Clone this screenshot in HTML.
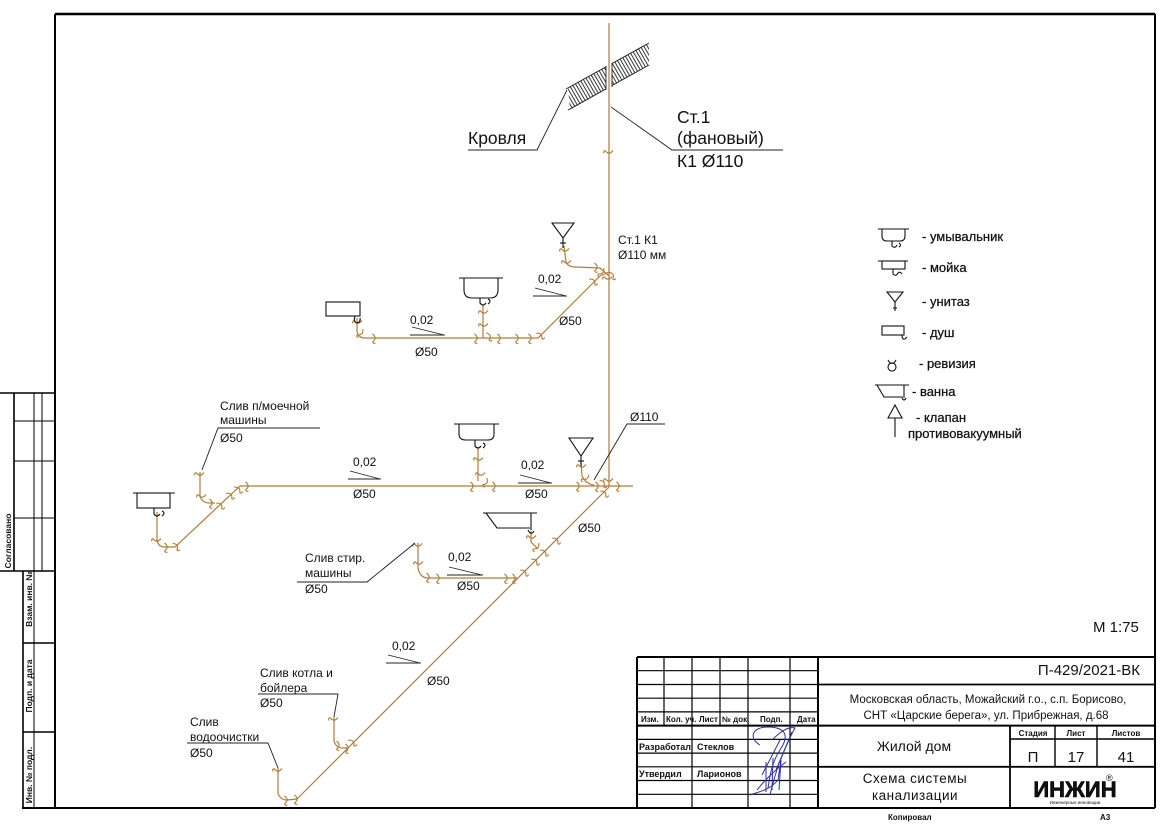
<!DOCTYPE html>
<html><head><meta charset="utf-8">
<style>
html,body{margin:0;padding:0;background:#fff;}
svg{display:block;}
text{font-family:"Liberation Sans",Arial,sans-serif;fill:#111;}
.b{font-weight:bold;}
</style></head><body>
<svg width="1166" height="824" viewBox="0 0 1166 824" xmlns="http://www.w3.org/2000/svg">
<defs>
<path id="s" d="M-1.5,-4 Q3.8,0 -1.5,4 M-1.5,4 Q-0.5,6 1.5,5" fill="none" stroke="#b07c38" stroke-width="1.1"/>
<pattern id="h" width="3" height="3" patternUnits="userSpaceOnUse" patternTransform="rotate(-30)"><line x1="0.5" y1="0" x2="0.5" y2="3" stroke="#222" stroke-width="0.9"/></pattern>
</defs>

<!-- FRAME -->
<line x1="55" y1="14" x2="1155" y2="14" stroke="#000" stroke-width="2.6"/>
<line x1="55" y1="14" x2="55" y2="808" stroke="#000" stroke-width="2"/>
<line x1="1155" y1="14" x2="1155" y2="808" stroke="#000" stroke-width="2"/>
<line x1="22" y1="808" x2="1155" y2="808" stroke="#000" stroke-width="2"/>

<!-- LEFT STRIP -->
<g stroke="#000" fill="none">
<line x1="0" y1="393" x2="55" y2="393" stroke-width="1.6"/>
<line x1="0" y1="571" x2="55" y2="571" stroke-width="1.6"/>
<line x1="14" y1="393" x2="14" y2="571" stroke-width="1.6"/>
<line x1="34" y1="393" x2="34" y2="571" stroke-width="1"/>
<line x1="42" y1="393" x2="42" y2="571" stroke-width="1"/>
<line x1="14" y1="421" x2="55" y2="421" stroke-width="1"/>
<line x1="14" y1="461" x2="55" y2="461" stroke-width="1"/>
<line x1="14" y1="518" x2="55" y2="518" stroke-width="1"/>
<line x1="23" y1="571" x2="23" y2="808" stroke-width="1.6"/>
<line x1="34" y1="571" x2="34" y2="808" stroke-width="1"/>
<line x1="23" y1="643" x2="55" y2="643" stroke-width="1.6"/>
<line x1="23" y1="732" x2="55" y2="732" stroke-width="1.6"/>
</g>
<text class="b" font-size="8.5" transform="translate(11,541) rotate(-90)" text-anchor="middle">Согласовано</text>
<text class="b" font-size="8.5" transform="translate(32,599) rotate(-90)" text-anchor="middle">Взам. инв. №</text>
<text class="b" font-size="8.5" transform="translate(32,686) rotate(-90)" text-anchor="middle">Подп. и дата</text>
<text class="b" font-size="8.5" transform="translate(32,775) rotate(-90)" text-anchor="middle">Инв. № подл.</text>

<!-- ROOF -->
<polygon points="568,88 649,43 649,65 570,110" fill="url(#h)"/>
<line x1="566" y1="89" x2="649" y2="43" stroke="#222" stroke-width="1"/>
<line x1="568" y1="110" x2="649" y2="65" stroke="#222" stroke-width="1"/>
<rect x="606" y="62" width="6" height="30" fill="#fff"/>
<line x1="606" y1="66" x2="606" y2="90" stroke="#222" stroke-width="0.9"/>
<line x1="612" y1="63" x2="612" y2="87" stroke="#222" stroke-width="0.9"/>
<polyline points="567,90 537,150 468,150" fill="none" stroke="#222" stroke-width="0.9"/>
<polyline points="611,107 672,150 783,150" fill="none" stroke="#222" stroke-width="0.9"/>
<text x="468" y="144" font-size="17.5">Кровля</text>
<text x="677" y="123" font-size="17.5">Ст.1</text>
<text x="677" y="144" font-size="17.5">(фановый)</text>
<text x="677" y="167" font-size="17.5">К1 Ø110</text>

<!-- PIPES -->
<g fill="none" stroke="#b07c38" stroke-width="1.2">
<line x1="609" y1="23" x2="609" y2="487"/>
<path d="M357,318 L357,331 Q358,338 365,338 L538,338 L600,276 L609,272"/>
<line x1="483" y1="305" x2="483" y2="338"/>
<path d="M564,246 L566,262 Q568,267 575,267 L600,268 L609,276"/>
<line x1="240" y1="486" x2="633" y2="486"/>
<path d="M175,547 L240,486"/>
<path d="M157,512 L157,540 Q158,547 165,547 L175,547"/>
<path d="M200,472 L200,496 Q202,503 210,503 L215,503"/>
<line x1="478" y1="447" x2="478" y2="481"/>
<path d="M581,462 L582,476 Q586,484 594,485"/>
<line x1="609" y1="487" x2="297" y2="799"/>
<path d="M531,531 L531,542 L538,549"/>
<path d="M418,543 L418,568 Q420,578 428,578 L517,578"/>
<path d="M334,717 L334,741 Q336,748 343,748 L348,748"/>
<path d="M278,768 L278,793 Q280,800 287,800 L297,799"/>
</g>

<!-- sockets -->
<g>
<use href="#s" transform="translate(609,152) rotate(90)"/>
<use href="#s" transform="translate(358,322) rotate(90)"/>
<use href="#s" transform="translate(361,333) rotate(45)"/>
<use href="#s" transform="translate(374,338)"/>
<use href="#s" transform="translate(476,338)"/>
<use href="#s" transform="translate(489,336) rotate(-20)"/>
<use href="#s" transform="translate(499,338)"/>
<use href="#s" transform="translate(517,338)"/>
<use href="#s" transform="translate(530,338)"/>
<use href="#s" transform="translate(540,335) rotate(-45)"/>
<use href="#s" transform="translate(484,312) rotate(90)"/>
<use href="#s" transform="translate(484,325) rotate(90)"/>
<use href="#s" transform="translate(565,250) rotate(90)"/>
<use href="#s" transform="translate(567,262) rotate(90)"/>
<use href="#s" transform="translate(593,281) rotate(-45)"/>
<use href="#s" transform="translate(596,267)"/>
<use href="#s" transform="translate(602,272) rotate(45)"/>
<use href="#s" transform="translate(608,278) rotate(90)"/>
<use href="#s" transform="translate(612,275) rotate(-30)"/>
<use href="#s" transform="translate(200,474) rotate(90)"/>
<use href="#s" transform="translate(202,496) rotate(90)"/>
<use href="#s" transform="translate(211,503)"/>
<use href="#s" transform="translate(220,505) rotate(-45)"/>
<use href="#s" transform="translate(230,495) rotate(-45)"/>
<use href="#s" transform="translate(238,489) rotate(-45)"/>
<use href="#s" transform="translate(247,486)"/>
<use href="#s" transform="translate(157,540) rotate(90)"/>
<use href="#s" transform="translate(166,547)"/>
<use href="#s" transform="translate(176,546) rotate(-30)"/>
<use href="#s" transform="translate(472,486)"/>
<use href="#s" transform="translate(494,486)"/>
<use href="#s" transform="translate(479,459) rotate(90)"/>
<use href="#s" transform="translate(481,474) rotate(90)"/>
<use href="#s" transform="translate(486,482) rotate(30)"/>
<use href="#s" transform="translate(578,486)"/>
<use href="#s" transform="translate(582,466) rotate(90)"/>
<use href="#s" transform="translate(586,478) rotate(60)"/>
<use href="#s" transform="translate(597,486)"/>
<use href="#s" transform="translate(603,483) rotate(-30)"/>
<use href="#s" transform="translate(609,480) rotate(90)"/>
<use href="#s" transform="translate(618,486)"/>
<use href="#s" transform="translate(604,493) rotate(-45)"/>
<use href="#s" transform="translate(556,540) rotate(-45)"/>
<use href="#s" transform="translate(532,537) rotate(90)"/>
<use href="#s" transform="translate(537,547) rotate(45)"/>
<use href="#s" transform="translate(544,552) rotate(-45)"/>
<use href="#s" transform="translate(535,561) rotate(-45)"/>
<use href="#s" transform="translate(524,572) rotate(-45)"/>
<use href="#s" transform="translate(418,545) rotate(90)"/>
<use href="#s" transform="translate(419,563) rotate(90)"/>
<use href="#s" transform="translate(428,577)"/>
<use href="#s" transform="translate(438,578)"/>
<use href="#s" transform="translate(506,578)"/>
<use href="#s" transform="translate(514,578)"/>
<use href="#s" transform="translate(334,719) rotate(90)"/>
<use href="#s" transform="translate(338,745)"/>
<use href="#s" transform="translate(347,748)"/>
<use href="#s" transform="translate(352,742) rotate(-45)"/>
<use href="#s" transform="translate(278,770) rotate(90)"/>
<use href="#s" transform="translate(286,800)"/>
<use href="#s" transform="translate(296,799)"/>
</g>

<!-- FIXTURES -->
<g fill="none" stroke="#111" stroke-width="1.1">
<rect x="326" y="302" width="34" height="14"/>
<path d="M355,316 Q353,322 357,323 Q361,322 360,318"/>
<line x1="459" y1="278" x2="503" y2="278"/>
<path d="M464,278 L464,290 Q464,298 472,298 L490,298 Q498,298 498,290 L498,278"/>
<path d="M480,298 L480,303 Q483,307 486,303 M488,299 Q492,301 488,304"/>
<polygon points="552,223 574,223 563,238"/>
<line x1="563" y1="238" x2="563" y2="248"/>
<line x1="560" y1="243" x2="566" y2="243"/>
<line x1="133" y1="493" x2="175" y2="493"/>
<rect x="137" y="493" width="33" height="15"/>
<path d="M154,508 L154,514 Q157,518 160,514 M162,511 Q166,513 162,516"/>
<line x1="454" y1="424" x2="499" y2="424"/>
<path d="M459,424 L459,434 Q459,440 466,440 L488,440 Q494,440 494,434 L494,424"/>
<path d="M475,440 L475,446 Q478,450 481,446 M483,443 Q487,445 483,448"/>
<polygon points="569,438 593,438 581,456"/>
<line x1="581" y1="456" x2="581" y2="466"/>
<line x1="578" y1="461" x2="584" y2="461"/>
<line x1="483" y1="513" x2="537" y2="513"/>
<polyline points="486,513 497,528 530,528"/>
<line x1="531" y1="513" x2="531" y2="530"/>
<path d="M528,530 Q531,536 534,531"/>
</g>
<g fill="none" stroke="#222" stroke-width="0.9">
<line x1="412" y1="327" x2="444" y2="335"/><line x1="410" y1="335" x2="445" y2="335"/>
<line x1="535" y1="288" x2="566" y2="296"/><line x1="533" y1="296" x2="567" y2="296"/>
<line x1="350" y1="471" x2="380" y2="479"/><line x1="348" y1="479" x2="381" y2="479"/>
<line x1="520" y1="475" x2="551" y2="483"/><line x1="518" y1="483" x2="552" y2="483"/>
<line x1="449" y1="567" x2="482" y2="575"/><line x1="447" y1="575" x2="483" y2="575"/>
<line x1="388" y1="655" x2="420" y2="663"/><line x1="386" y1="663" x2="421" y2="663"/>
<polyline points="320,428 218,428 202,470"/>
<polyline points="665,424 627,424 594,480"/>
<polyline points="297,582 367,582 415,543"/>
<polyline points="258,694 338,694 334,717"/>
<polyline points="187,743 268,743 278,768"/>
</g>

<!-- DRAWING LABELS -->
<g font-size="12">
<text x="618" y="244">Ст.1  К1</text>
<text x="618" y="259">Ø110 мм</text>
<text x="410" y="324">0,02</text>
<text x="415" y="356">Ø50</text>
<text x="538" y="283">0,02</text>
<text x="559" y="325">Ø50</text>
<text x="220" y="410">Слив п/моечной</text>
<text x="220" y="424">машины</text>
<text x="220" y="442">Ø50</text>
<text x="353" y="466">0,02</text>
<text x="353" y="498">Ø50</text>
<text x="521" y="469">0,02</text>
<text x="525" y="498">Ø50</text>
<text x="630" y="421">Ø110</text>
<text x="578" y="532">Ø50</text>
<text x="305" y="562">Слив стир.</text>
<text x="305" y="577">машины</text>
<text x="305" y="593">Ø50</text>
<text x="448" y="561">0,02</text>
<text x="457" y="590">Ø50</text>
<text x="392" y="650">0,02</text>
<text x="427" y="685">Ø50</text>
<text x="260" y="677">Слив котла и</text>
<text x="260" y="692">бойлера</text>
<text x="260" y="707">Ø50</text>
<text x="190" y="726">Слив</text>
<text x="190" y="741">водоочистки</text>
<text x="190" y="757">Ø50</text>
</g>

<!-- LEGEND -->
<g fill="none" stroke="#111" stroke-width="1.1">
<line x1="878" y1="229" x2="909" y2="229"/>
<path d="M882,229 L882,236 Q882,241 887,241 L900,241 Q905,241 905,236 L905,229"/>
<path d="M892,241 L892,246 Q895,249 897,245 M899,243 Q902,245 899,247"/>
<line x1="878" y1="261" x2="908" y2="261"/>
<rect x="882" y="261" width="23" height="8"/>
<path d="M893,269 L893,274 Q896,277 898,273 Q900,271 902,274"/>
<polygon points="887,292 903,292 895,302"/>
<line x1="895" y1="302" x2="895" y2="311"/>
<line x1="893" y1="308" x2="897" y2="308"/>
<rect x="882" y="326" width="22" height="9"/>
<path d="M902,335 Q902,340 905,339 L907,337"/>
<circle cx="892" cy="367" r="4"/>
<path d="M888,360 Q890,364 892,363 Q894,364 896,360"/>
<line x1="875" y1="385" x2="909" y2="385"/>
<polyline points="877,385 884,397 903,397"/>
<line x1="904" y1="385" x2="904" y2="398"/>
<path d="M902,398 Q904,402 906,398"/>
<polygon points="895,405 888,418 902,418"/>
<line x1="895" y1="418" x2="895" y2="437"/>
</g>
<g font-size="13" stroke="#111" stroke-width="0.25">
<text x="922" y="241">- умывальник</text>
<text x="922" y="272">- мойка</text>
<text x="922" y="306">- унитаз</text>
<text x="922" y="337">- душ</text>
<text x="919" y="368">- ревизия</text>
<text x="912" y="396">- ванна</text>
<text x="916" y="422">- клапан</text>
<text x="908" y="438">противовакуумный</text>
</g>

<text x="1093" y="632" font-size="15">М 1:75</text>

<!-- TITLE BLOCK -->
<g stroke="#000" fill="none">
<line x1="637" y1="657" x2="1155" y2="657" stroke-width="2"/>
<line x1="637" y1="657" x2="637" y2="808" stroke-width="2"/>
<line x1="818" y1="657" x2="818" y2="808" stroke-width="2"/>
<g stroke-width="1.2">
<line x1="637" y1="670.7" x2="818" y2="670.7"/>
<line x1="637" y1="684.5" x2="818" y2="684.5"/>
<line x1="637" y1="698.2" x2="818" y2="698.2"/>
<line x1="637" y1="711.9" x2="818" y2="711.9"/>
<line x1="637" y1="739.4" x2="818" y2="739.4"/>
<line x1="637" y1="753.1" x2="818" y2="753.1"/>
<line x1="637" y1="766.8" x2="818" y2="766.8"/>
<line x1="637" y1="780.5" x2="818" y2="780.5"/>
<line x1="637" y1="794.3" x2="818" y2="794.3"/>
<line x1="664" y1="657" x2="664" y2="725.6"/>
<line x1="720" y1="657" x2="720" y2="725.6"/>
<line x1="692" y1="657" x2="692" y2="808"/>
<line x1="748" y1="657" x2="748" y2="808"/>
<line x1="790" y1="657" x2="790" y2="808"/>
</g>
<line x1="637" y1="725.6" x2="1155" y2="725.6" stroke-width="2"/>
<line x1="818" y1="684.5" x2="1155" y2="684.5" stroke-width="1.8"/>
<line x1="818" y1="766.8" x2="1155" y2="766.8" stroke-width="1.8"/>
<line x1="1010" y1="739" x2="1155" y2="739" stroke-width="1.4"/>
<line x1="1010" y1="725.6" x2="1010" y2="808" stroke-width="1.8"/>
<line x1="1055" y1="725.6" x2="1055" y2="766.8" stroke-width="1.4"/>
<line x1="1097" y1="725.6" x2="1097" y2="766.8" stroke-width="1.4"/>
</g>
<g class="b" font-size="8">
<text x="641" y="722">Изм.</text>
<text x="666" y="722">Кол. уч.</text>
<text x="699" y="722">Лист</text>
<text x="722" y="722">№ док.</text>
<text x="760" y="722">Подп.</text>
<text x="797" y="722">Дата</text>
<text x="639" y="750" font-size="9">Разработал</text>
<text x="697" y="750" font-size="9">Стеклов</text>
<text x="639" y="777" font-size="9">Утвердил</text>
<text x="697" y="777" font-size="9">Ларионов</text>
<text x="1033" y="736" text-anchor="middle">Стадия</text>
<text x="1076" y="736" text-anchor="middle">Лист</text>
<text x="1126" y="736" text-anchor="middle">Листов</text>
<text x="888" y="820">Копировал</text>
<text x="1100" y="820">А3</text>
</g>
<text x="1140" y="675" font-size="15" text-anchor="end">П-429/2021-ВК</text>
<text x="988" y="703" font-size="11.5" text-anchor="middle" fill="#333">Московская область, Можайский г.о., с.п. Борисово,</text>
<text x="986" y="719" font-size="11.5" text-anchor="middle" fill="#333">СНТ «Царские берега», ул. Прибрежная, д.68</text>
<text x="914" y="751" font-size="14" text-anchor="middle">Жилой дом</text>
<text x="1033" y="762" font-size="15" text-anchor="middle">П</text>
<text x="1076" y="762" font-size="15" text-anchor="middle">17</text>
<text x="1126" y="762" font-size="15" text-anchor="middle">41</text>
<text x="915" y="783" font-size="13.5" text-anchor="middle" letter-spacing="0.5">Схема системы</text>
<text x="915" y="800" font-size="13.5" text-anchor="middle" letter-spacing="0.5">канализации</text>
<text x="1075" y="797" font-size="22" font-weight="900" text-anchor="middle" fill="#000" stroke="#000" stroke-width="0.6">ИНЖИН</text>
<text x="1106" y="781" font-size="9">®</text>
<text x="1075" y="804" font-size="4.5" text-anchor="middle" fill="#3a9a3a">Инженерные инновации</text>

<!-- signature -->
<g fill="none" stroke="#2a2fb0" stroke-width="1">
<path d="M760,745 C748,738 752,726 770,727 C785,728 790,735 780,750 C772,762 770,775 768,788"/>
<path d="M772,740 C780,732 788,726 795,728 C788,740 784,752 778,766 C775,776 772,786 770,795"/>
<path d="M757,790 C765,780 775,770 786,762 M762,775 L780,740 M776,770 L792,732"/>
<path d="M750,795 C758,792 770,790 778,780 L781,760 L779,790"/>
<path d="M766,762 L766,792 M773,758 L772,790"/>
</g>
</svg>
</body></html>
